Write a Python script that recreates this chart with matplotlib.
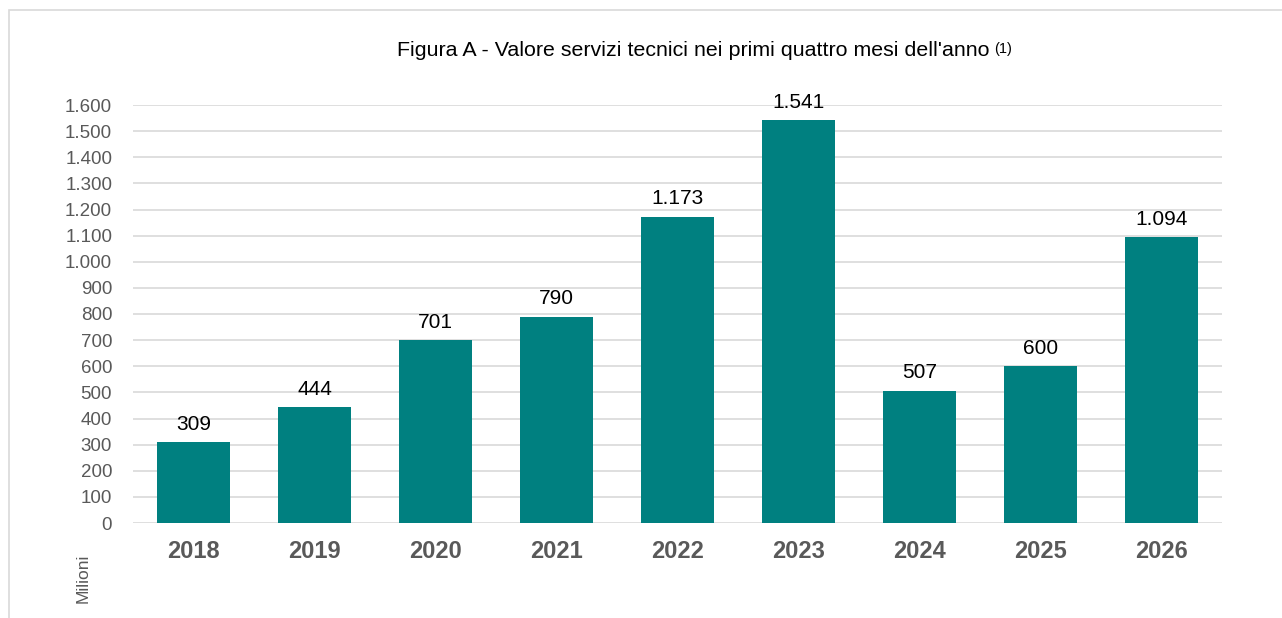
import matplotlib
matplotlib.use("Agg")
import matplotlib.pyplot as plt
from matplotlib.patches import Rectangle

years = ["2018", "2019", "2020", "2021", "2022", "2023", "2024", "2025", "2026"]
values = [309, 444, 701, 790, 1173, 1541, 507, 600, 1094]
y_ticks = list(range(0, 1700, 100))
title = "Figura A - Valore servizi tecnici nei primi quattro mesi dell'anno"
note = "(1)"
unit_label = "Milioni"

def it_fmt(v):
    return f"{v:,}".replace(",", ".")

plt.rcParams['font.family'] = ['Liberation Sans', 'DejaVu Sans']

W, H = 1282, 618
fig = plt.figure(figsize=(W / 100, H / 100), dpi=100)
fig.patch.set_facecolor("white")

# outer chart border (clipped by figure edges on right and bottom)
fig.patches.append(Rectangle((9 / W, -0.1), 1.2, 1 - 10 / H + 0.1,
                             transform=fig.transFigure, fill=False,
                             edgecolor="#d9d9d9", linewidth=1.2))

ax = fig.add_axes([133 / W, 1 - 523 / H, (1222 - 133) / W, (523 - 105) / H])
x = list(range(len(years)))
bars = ax.bar(x, values, width=0.6, color="#008080", zorder=3)
ax.set_xlim(-0.5, len(years) - 0.5)
ax.set_ylim(0, 1600)
ax.set_yticks(y_ticks)
ax.set_yticklabels([it_fmt(t) for t in y_ticks], fontsize=13.5, color="#595959")
ax.set_xticks(x)
ax.set_xticklabels(years, fontsize=17, fontweight="bold", color="#595959")
ax.tick_params(axis="y", length=0, pad=15)
ax.tick_params(axis="x", length=0, pad=12)
ax.grid(axis="y", color="#d9d9d9", linewidth=1.2, zorder=0)
for s in ax.spines.values():
    s.set_visible(False)

ax.bar_label(bars, labels=[it_fmt(v) for v in values], padding=6,
             fontsize=15, color="black")

t = fig.text(397 / W, 1 - 56 / H, title, ha="left", va="baseline",
             fontsize=15.4, color="black")
fig.canvas.draw()
bb = t.get_window_extent(renderer=fig.canvas.get_renderer())
fig.text((bb.x1 + 5) / W, 1 - 53 / H, note, ha="left", va="baseline",
         fontsize=10.5, color="black")

fig.text(83 / W, 1 - 578 / H, unit_label, rotation=90, ha="center", va="center",
         fontsize=12.5, color="#595959")

fig.savefig("out.png", dpi=100)
